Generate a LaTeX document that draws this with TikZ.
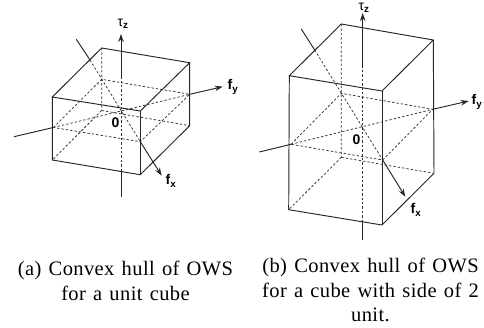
\documentclass[tikz,border=0pt]{standalone}
\usepackage{fontspec}
\setmainfont[LetterSpace=2,WordSpace=1.3]{Liberation Serif}
\setsansfont{Liberation Sans}
\usetikzlibrary{arrows.meta}

\begin{document}
\begin{tikzpicture}[
    x=1pt, y=-1pt,
    >={Stealth[length=8pt,width=5.5pt]},
    edge/.style={line width=0.95pt, black!85},
    hidden/.style={line width=0.75pt, black!80, dash pattern=on 2.4pt off 2pt},
    axis/.style={line width=0.95pt, black!85},
    axislabel/.style={font=\sffamily\bfseries\fontsize{14}{15}\selectfont, inner sep=0pt},
    caption/.style={font=\fontsize{20.5}{24.7}\selectfont, align=center, inner sep=0pt},
  ]
  \useasboundingbox (0,0) rectangle (484,327);

  % === Left cube ===
  \coordinate (aA) at (52.3,97);
  \coordinate (aB) at (140.3,111);
  \coordinate (aC) at (189.7,62.7);
  \coordinate (aD) at (101.7,48);
  \coordinate (aE) at (52.3,160);
  \coordinate (aF) at (140.3,174.7);
  \coordinate (aG) at (189.7,125.7);
  \coordinate (aH) at (101.7,110.5);
  \coordinate (aL) at (53.3,127.5);
  \coordinate (aR) at (189.7,94.3);
  \coordinate (aBk) at (101.7,79.3);
  \coordinate (aFr) at (140.3,141.7);

  \draw[hidden] (aD) -- (aH) (aH) -- (aE) (aH) -- (aG);
  \draw[hidden] (aL) -- (aBk) -- (aR) -- (aFr) -- (aL);
  \draw[edge] (aA) -- (aB) -- (aC) -- (aD) -- cycle;
  \draw[edge] (aA) -- (aE) -- (aF) -- (aG) -- (aC);
  \draw[edge] (aB) -- (aF);

  % axes
  \coordinate (azlow) at (121,197);
  \coordinate (azbot) at (121,171);
  \coordinate (aztop) at (121,77);
  \coordinate (azend) at (121,34);
  \coordinate (aylow) at (14,136.7);
  \coordinate (ayend) at (222.7,86.7);
  \coordinate (axlow) at (76.3,39.3);
  \coordinate (axin) at (90,60);
  \coordinate (axend) at (161.7,175.7);
  \draw[axis] (azlow) -- (azbot);
  \draw[hidden] (azbot) -- (aztop);
  \draw[axis,->] (aztop) -- (azend);
  \draw[axis] (aylow) -- (aL);
  \draw[hidden] (aL) -- (aR);
  \draw[axis,->] (aR) -- (ayend);
  \draw[axis] (axlow) -- (axin);
  \draw[hidden] (axin) -- (aFr);
  \draw[axis,->] (aFr) -- (axend);

  \node[axislabel] (atau) at (123,24) {{\mdseries τ}\textsubscript{z}};
  \node[axislabel] (afy) at (233,87) {f\textsubscript{y}};
  \node[axislabel] (afx) at (171,181) {f\textsubscript{x}};
  \node[axislabel] (azero) at (115.5,122.5) {0};

  % === Right cube ===
  \coordinate (bA) at (289.3,75.7);
  \coordinate (bB) at (382,91);
  \coordinate (bC) at (433.3,40);
  \coordinate (bD) at (341.3,24);
  \coordinate (bE) at (288.7,209.7);
  \coordinate (bF) at (382,225);
  \coordinate (bG) at (434,173.3);
  \coordinate (bH) at (341.3,157.3);
  \coordinate (bL) at (291,144.3);
  \coordinate (bR) at (432.7,109.3);
  \coordinate (bBk) at (341.3,93.3);
  \coordinate (bFr) at (382.7,160);

  \draw[hidden] (bD) -- (bH) (bH) -- (bE) (bH) -- (bG);
  \draw[hidden] (bL) -- (bBk) -- (bR) -- (bFr) -- (bL);
  \draw[edge] (bA) -- (bB) -- (bC) -- (bD) -- cycle;
  \draw[edge] (bA) -- (bE) -- (bF) -- (bG) -- (bC);
  \draw[edge] (bB) -- (bF);

  % axes
  \coordinate (bzlow) at (362.7,240);
  \coordinate (bzbot) at (362.7,222);
  \coordinate (bztop) at (362.7,68);
  \coordinate (bzend) at (362.7,13);
  \coordinate (bylow) at (259.3,152);
  \coordinate (byend) at (468.7,101);
  \coordinate (bxlow) at (301.3,29);
  \coordinate (bxin) at (314.7,50);
  \coordinate (bxend) at (405.3,196.7);
  \draw[axis] (bzlow) -- (bzbot);
  \draw[hidden] (bzbot) -- (bztop);
  \draw[axis,->] (bztop) -- (bzend);
  \draw[axis] (bylow) -- (bL);
  \draw[hidden] (bL) -- (bR);
  \draw[axis,->] (bR) -- (byend);
  \draw[axis] (bxlow) -- (bxin);
  \draw[hidden] (bxin) -- (bFr);
  \draw[axis,->] (bFr) -- (bxend);

  \node[axislabel] (btau) at (364,8) {{\mdseries τ}\textsubscript{z}};
  \node[axislabel] (bfy) at (477,102) {f\textsubscript{y}};
  \node[axislabel] (bfx) at (416,210) {f\textsubscript{x}};
  \node[axislabel] (bzero) at (356.5,139.5) {0};

  % === Captions ===
  \node[caption] (capa) at (125.5,281) {(a) Convex hull of OWS\\for a unit cube};
  \node[caption] (capb) at (370.5,290) {(b) Convex hull of OWS\\for a cube with side of 2\\unit.};
\end{tikzpicture}
\end{document}
